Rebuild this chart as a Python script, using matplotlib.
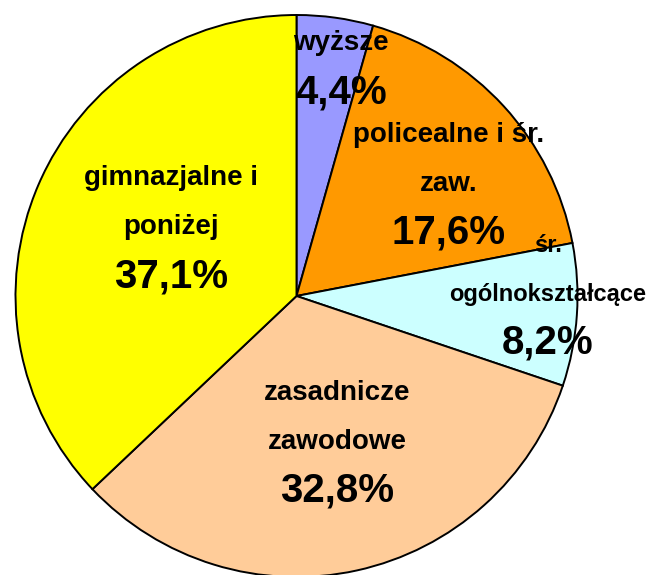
import matplotlib
matplotlib.use("Agg")
import matplotlib.pyplot as plt

plt.rcParams["font.family"] = ["Liberation Sans", "DejaVu Sans"]

# data
categories = ["wyższe", "policealne i śr.\nzaw.", "śr.\nogólnokształcące",
              "zasadnicze\nzawodowe", "gimnazjalne i\nponiżej"]
shares = [4.4, 17.6, 8.2, 32.8, 37.1]
pct_labels = ["4,4%", "17,6%", "8,2%", "32,8%", "37,1%"]
colors = ["#9999FF", "#FF9900", "#CCFFFF", "#FFCC99", "#FFFF00"]

W, H = 649, 575
CX, CY, R = 296.5, 296, 281  # pie centre / radius in pixels

fig = plt.figure(figsize=(W / 100, H / 100), dpi=100)
ax = fig.add_axes([(CX - R) / W, (H - CY - R) / H, 2 * R / W, 2 * R / H])

ax.pie(shares, colors=colors, startangle=90, counterclock=False, radius=1,
       wedgeprops=dict(edgecolor="black", linewidth=1.4))
ax.set_xlim(-1, 1)
ax.set_ylim(-1, 1)
ax.axis("off")

# label anchors: centre x / baseline of first line, in pixels
anchors = [(341, 50), (449, 142), (548, 252), (337, 400), (171, 185)]
name_sizes = [20, 20, 17, 20, 20]
name_step = 49 * 0.72   # px -> pt
pct_step = 53 * 0.72

for cat, pct, (px, py), fs in zip(categories, pct_labels, anchors, name_sizes):
    xy = ((px - CX) / R, (CY - py) / R)
    lines = cat.split("\n")
    for i, line in enumerate(lines):
        ax.annotate(line, xy=xy, xytext=(0, -i * name_step), textcoords="offset points",
                    ha="center", va="baseline", fontsize=fs, fontweight="bold",
                    annotation_clip=False)
    off = -(len(lines) - 1) * name_step - pct_step
    ax.annotate(pct, xy=xy, xytext=(0, off), textcoords="offset points",
                ha="center", va="baseline", fontsize=29, fontweight="bold",
                annotation_clip=False)

fig.savefig("out.png", dpi=100)
